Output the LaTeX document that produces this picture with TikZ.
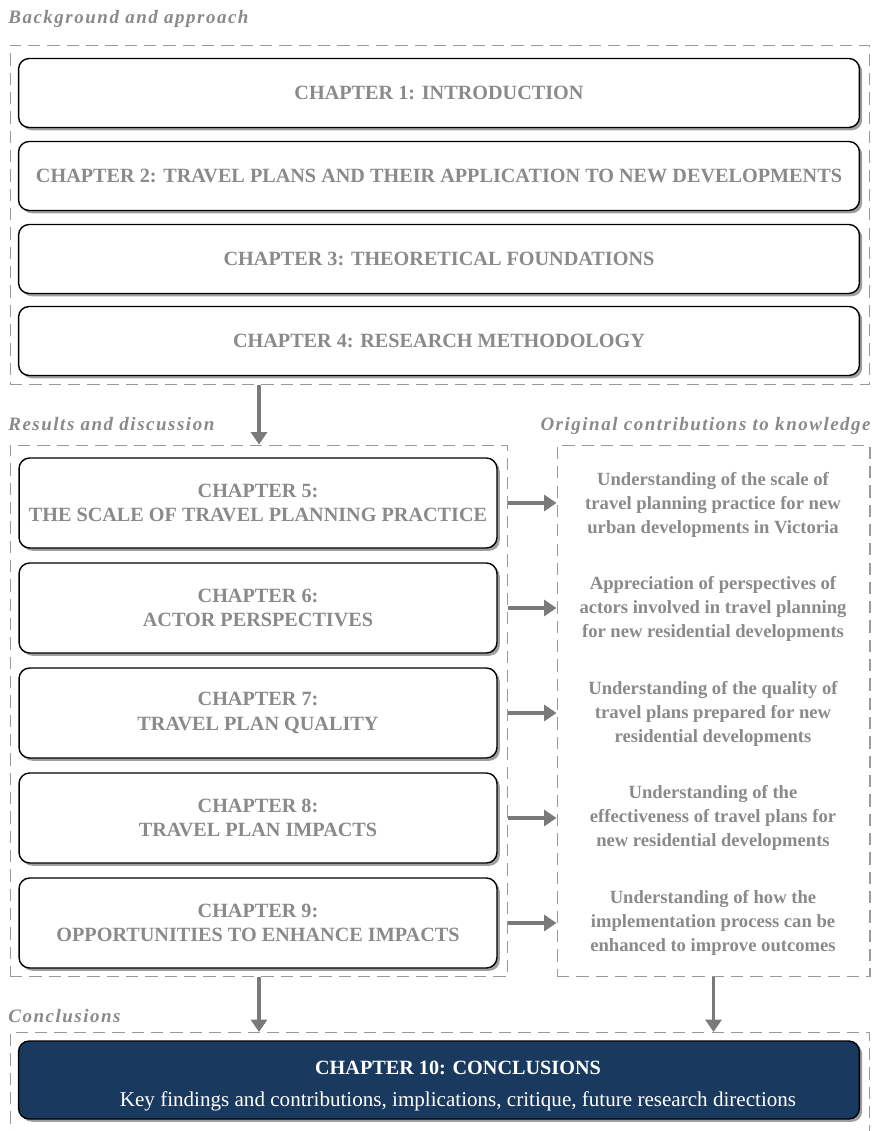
\documentclass[tikz,border=0pt]{standalone}
\usepackage{fontspec}
\setmainfont{Liberation Serif}
\newfontfamily\partfont{Liberation Serif}[LetterSpace=8.0]
\usepackage{tikz}
\usetikzlibrary{arrows.meta,shadows,positioning}

\definecolor{chapgrey}{HTML}{8A8A8A}
\definecolor{dashgrey}{HTML}{9A9A9A}
\definecolor{flowgrey}{HTML}{7A7A7A}
\definecolor{navy}{HTML}{193A5E}

\begin{document}
\begin{tikzpicture}[x=0.02cm,y=0.02cm,
  chapbox/.style={draw=black,line width=0.8pt,rounded corners=6pt,fill=white,
    drop shadow={shadow xshift=1.6pt,shadow yshift=-1.6pt,fill=gray!75,opacity=1},
    text=chapgrey,align=center,font=\fontsize{11.5}{13.8}\selectfont\bfseries},
  widebox/.style={chapbox,minimum width=16.82cm,minimum height=1.38cm},
  halfbox/.style={chapbox,minimum width=9.56cm,minimum height=1.8cm},
  group/.style={draw=dashgrey,dashed,dash pattern=on 7pt off 4pt,line width=0.6pt,
    inner sep=0pt},
  contrib/.style={text=chapgrey,align=center,font=\fontsize{10.6}{13.6}\selectfont\bfseries},
  part/.style={text=chapgrey,font=\partfont\fontsize{10.8}{12}\selectfont\bfseries\itshape,
    inner sep=0pt},
  flow/.style={draw=flowgrey,line width=1.8pt,-{Triangle[length=7pt,width=9pt]}}]
\useasboundingbox (0,0) rectangle (874,-1131);

% dashed groups
\node[group,minimum width=17.2cm,minimum height=6.8cm] (background) at (440,-215) {};
\node[group,minimum width=9.96cm,minimum height=10.64cm] (results) at (259,-711) {};
\node[group,minimum width=6.26cm,minimum height=10.64cm] (original) at (713.5,-711) {};
\node[group,minimum width=17.2cm,minimum height=2.3cm] (concl) at (440,-1090) {};

% group titles
\node[part,anchor=base west] (bglabel) at (8,-24) {Background and approach};
\node[part,anchor=base west] (reslabel) at (8,-430) {Results and discussion};
\node[part,anchor=base east] (origlabel) at (871,-430) {Original contributions to knowledge};
\node[part,anchor=base west] (conlabel) at (8,-1022) {Conclusions};

% chapters 1-4
\node[widebox] (intro) at (439,-93) {CHAPTER 1: INTRODUCTION};
\node[widebox] (tplans) at (439,-176) {CHAPTER 2: TRAVEL PLANS AND THEIR APPLICATION TO NEW DEVELOPMENTS};
\node[widebox] (theory) at (439,-259) {CHAPTER 3: THEORETICAL FOUNDATIONS};
\node[widebox] (method) at (439,-341) {CHAPTER 4: RESEARCH METHODOLOGY};

% chapters 5-9
\node[halfbox] (scale) at (258,-503) {CHAPTER 5:\\THE SCALE OF TRAVEL PLANNING PRACTICE};
\node[halfbox] (actors) at (258,-608) {CHAPTER 6:\\ACTOR PERSPECTIVES};
\node[halfbox] (quality) at (258,-713) {CHAPTER 7:\\TRAVEL PLAN QUALITY};
\node[halfbox] (impacts) at (258,-818) {CHAPTER 8:\\TRAVEL PLAN IMPACTS};
\node[halfbox] (enhance) at (258,-923) {CHAPTER 9:\\OPPORTUNITIES TO ENHANCE IMPACTS};

% contributions
\node[contrib] (cscale) at (713,-505) {Understanding of the scale of\\travel planning practice for new\\urban developments in Victoria};
\node[contrib] (cactors) at (713,-609) {Appreciation of perspectives of\\actors involved in travel planning\\for new residential developments};
\node[contrib] (cquality) at (713,-714) {Understanding of the quality of\\travel plans prepared for new\\residential developments};
\node[contrib] (cimpacts) at (713,-818) {Understanding of the\\effectiveness of travel plans for\\new residential developments};
\node[contrib] (cenhance) at (713,-923) {Understanding of how the\\implementation process can be\\enhanced to improve outcomes};

% chapter 10
\node[chapbox,fill=navy,minimum width=16.82cm,minimum height=1.56cm] (conclusions) at (439,-1080) {};
\node[text=white,align=center,font=\fontsize{12}{14}\selectfont] (conctext) at (458,-1086)
  {\textbf{\fontsize{11.5}{14}\selectfont CHAPTER 10: CONCLUSIONS}\\[4pt]Key findings and contributions, implications, critique, future research directions};

% arrows
\draw[flow] (background.south -| results.north) -- (results.north);
\foreach \ch/\co in {scale/cscale,actors/cactors,quality/cquality,impacts/cimpacts,enhance/cenhance}
  \draw[flow] (\ch.east -| results.east) -- (\ch.east -| original.west);
\draw[flow] (results.south) -- (results.south |- concl.north);
\draw[flow] (original.south) -- (original.south |- concl.north);
\end{tikzpicture}
\end{document}
